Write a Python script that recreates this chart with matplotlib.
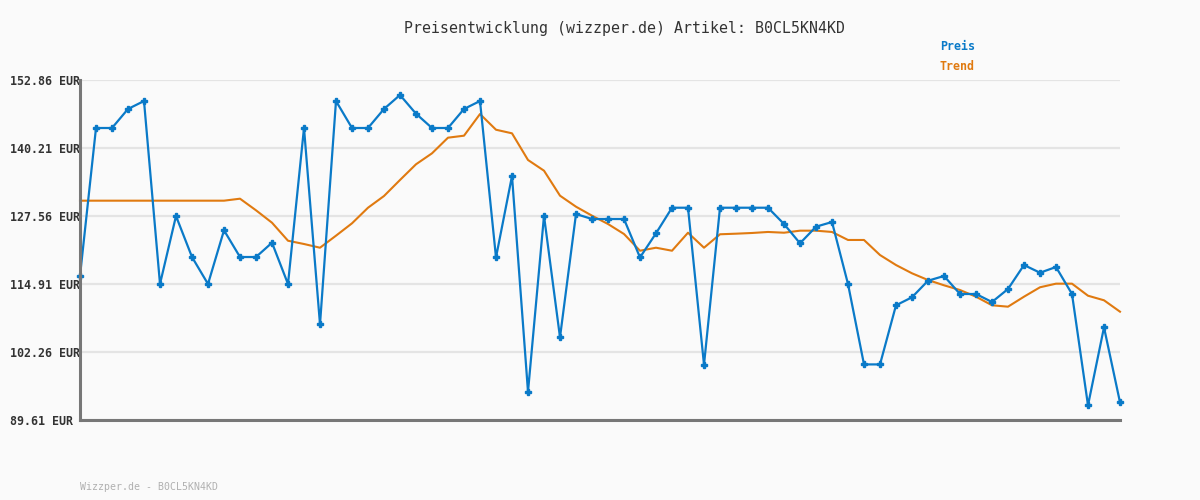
import numpy as np
import matplotlib.pyplot as plt

# values (EUR)
preis = [
    116.40, 143.93, 143.93, 147.47, 148.95, 114.91, 127.56, 119.93, 114.91, 124.90,
    119.93, 119.93, 122.59, 114.91, 143.93, 107.41, 148.95, 143.93, 143.93, 147.47,
    150.07, 146.59, 143.93, 143.93, 147.47, 148.95, 119.85, 135.00, 94.87, 127.60,
    104.99, 127.93, 127.00, 127.00, 127.00, 119.85, 124.34, 129.10, 129.10, 99.90,
    129.10, 129.10, 129.10, 129.10, 126.07, 122.48, 125.57, 126.44, 114.91, 99.95,
    99.95, 110.95, 112.44, 115.52, 116.40, 113.05, 113.05, 111.56, 113.98, 118.44,
    117.01, 118.07, 113.05, 92.34, 106.85, 92.90,
]
trend = [
    130.41, 130.41, 130.41, 130.41, 130.41, 130.41, 130.41, 130.41, 130.41, 130.41,
    130.78, 128.62, 126.31, 122.96, 122.35, 121.66, 123.90, 126.20, 129.10, 131.28,
    134.26, 137.18, 139.22, 142.13, 142.50, 146.53, 143.61, 142.94, 137.98, 135.99,
    131.34, 129.29, 127.62, 126.07, 124.21, 121.10, 121.66, 121.10, 124.45, 121.66,
    124.16, 124.27, 124.40, 124.59, 124.45, 124.83, 124.83, 124.59, 123.10, 123.10,
    120.30, 118.44, 116.90, 115.65, 114.67, 113.79, 112.55, 110.95, 110.69, 112.55,
    114.30, 114.97, 114.97, 112.73, 111.88, 109.76,
]
y_ticks = [89.61, 102.26, 114.91, 127.56, 140.21, 152.86]
artikel = "B0CL5KN4KD"

blue = "#0a7ac8"
orange = "#e07a10"
bg = "#fafafa"
mono = "DejaVu Sans Mono"

fig = plt.figure(figsize=(12, 5), dpi=100, facecolor=bg)
ax = fig.add_axes([80 / 1200, 80 / 500, 1040 / 1200, 340 / 500], facecolor=bg)

x = np.arange(len(preis))
ax.plot(x, trend, color=orange, lw=1.5, zorder=3, clip_on=False)
ax.plot(x, preis, color=blue, lw=1.6, marker="P", ms=4, zorder=4, clip_on=False)

ax.set_xlim(0, len(preis) - 1)
ax.set_ylim(y_ticks[0], y_ticks[-1])
ax.set_xticks([])
ax.set_yticks(y_ticks)
ax.set_yticklabels([f"{v:.2f} EUR" for v in y_ticks], fontfamily=mono,
                   fontweight="bold", fontsize=8.4, color="#333333", ha="left")
ax.tick_params(axis="y", length=0, pad=50.4)
ax.grid(axis="y", color="#e4e4e4", lw=1.6, zorder=0)

for side in ["top", "right"]:
    ax.spines[side].set_visible(False)
for side in ["left", "bottom"]:
    ax.spines[side].set_color("#777777")
    ax.spines[side].set_linewidth(2.2)
    ax.spines[side].set_zorder(5)

fig.text(624 / 1200, 1 - 28 / 500, f"Preisentwicklung (wizzper.de) Artikel: {artikel}",
         ha="center", va="center", fontfamily=mono, fontsize=10.7, color="#333333")
fig.text(940 / 1200, 1 - 47 / 500, "Preis", ha="left", va="center",
         fontfamily=mono, fontweight="bold", fontsize=8.4, color=blue)
fig.text(940 / 1200, 1 - 67 / 500, "Trend", ha="left", va="center",
         fontfamily=mono, fontweight="bold", fontsize=8.4, color=orange)
fig.text(80 / 1200, 1 - 487 / 500, f"Wizzper.de - {artikel}", ha="left", va="center",
         fontfamily=mono, fontsize=7.1, color="#b0b0b0")

fig.savefig("out.png", dpi=100, facecolor=bg)
